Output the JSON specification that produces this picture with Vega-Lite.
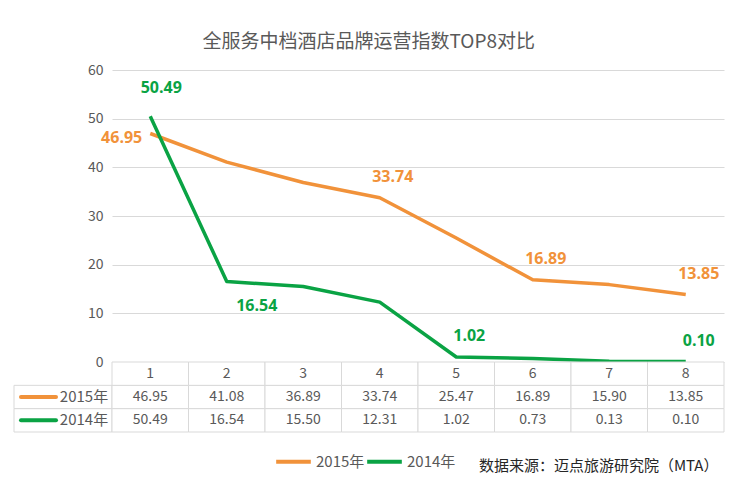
{
  "$schema": "https://vega.github.io/schema/vega-lite/v6.json",
  "background": "white",
  "padding": {"left": 13, "right": 11, "top": 33, "bottom": 0},
  "title": {
    "text": "全服务中档酒店品牌运营指数TOP8对比",
    "font": "Noto Sans CJK SC",
    "fontSize": 19,
    "fontWeight": "normal",
    "color": "#595959",
    "anchor": "middle",
    "offset": 11
  },
  "datasets": {
    "scores": [
      {"rank": 1, "series": "2015年", "value": 46.95},
      {"rank": 2, "series": "2015年", "value": 41.08},
      {"rank": 3, "series": "2015年", "value": 36.89},
      {"rank": 4, "series": "2015年", "value": 33.74},
      {"rank": 5, "series": "2015年", "value": 25.47},
      {"rank": 6, "series": "2015年", "value": 16.89},
      {"rank": 7, "series": "2015年", "value": 15.90},
      {"rank": 8, "series": "2015年", "value": 13.85},
      {"rank": 1, "series": "2014年", "value": 50.49},
      {"rank": 2, "series": "2014年", "value": 16.54},
      {"rank": 3, "series": "2014年", "value": 15.50},
      {"rank": 4, "series": "2014年", "value": 12.31},
      {"rank": 5, "series": "2014年", "value": 1.02},
      {"rank": 6, "series": "2014年", "value": 0.73},
      {"rank": 7, "series": "2014年", "value": 0.13},
      {"rank": 8, "series": "2014年", "value": 0.10}
    ]
  },
  "columns": 2,
  "spacing": 0,
  "bounds": "flush",
  "concat": [
    {
      "width": 98,
      "height": 292,
      "data": {"values": []},
      "mark": "text"
    },
    {
      "width": 612,
      "height": 292,
      "data": {"name": "scores"},
      "encoding": {
        "x": {"field": "rank", "type": "ordinal", "axis": null},
        "y": {
          "field": "value",
          "type": "quantitative",
          "scale": {"domain": [0, 60]},
          "axis": {
            "values": [0, 10, 20, 30, 40, 50, 60],
            "title": null,
            "domain": false,
            "ticks": false,
            "labelPadding": 9,
            "labelFontSize": 14,
            "labelColor": "#595959",
            "gridColor": "#d9d9d9"
          }
        },
        "color": {
          "field": "series",
          "type": "nominal",
          "scale": {"domain": ["2015年", "2014年"], "range": ["#F1923A", "#0AA344"]},
          "legend": {
            "orient": "none",
            "legendX": 260,
            "legendY": 372,
            "direction": "horizontal",
            "title": null,
            "symbolType": "stroke",
            "symbolSize": 1200,
            "symbolStrokeWidth": 4,
            "labelFontSize": 15,
            "labelColor": "#595959",
            "labelOffset": 3,
            "columnPadding": -6
          }
        }
      },
      "layer": [
        {"mark": {"type": "line", "strokeWidth": 3.5, "strokeJoin": "round"}},
        {
          "transform": [{"filter": "(datum.series == '2015年' && (datum.rank == 4 || datum.rank == 6 || datum.rank == 8)) || (datum.series == '2014年' && (datum.rank == 5 || datum.rank == 8))"}],
          "mark": {"type": "text", "font": "Open Sans", "fontSize": 16, "fontWeight": "bold", "dx": 13, "dy": -21},
          "encoding": {"text": {"field": "value", "type": "quantitative", "format": ".2f"}}
        },
        {
          "transform": [{"filter": "datum.series == '2015年' && datum.rank == 1"}],
          "mark": {"type": "text", "font": "Open Sans", "fontSize": 16, "fontWeight": "bold", "align": "right", "dx": -8, "dy": 4},
          "encoding": {"text": {"field": "value", "type": "quantitative", "format": ".2f"}}
        },
        {
          "transform": [{"filter": "datum.series == '2014年' && datum.rank == 1"}],
          "mark": {"type": "text", "font": "Open Sans", "fontSize": 16, "fontWeight": "bold", "dx": 11, "dy": -28},
          "encoding": {"text": {"field": "value", "type": "quantitative", "format": ".2f"}}
        },
        {
          "transform": [{"filter": "datum.series == '2014年' && datum.rank == 2"}],
          "mark": {"type": "text", "font": "Open Sans", "fontSize": 16, "fontWeight": "bold", "dx": 30, "dy": 24},
          "encoding": {"text": {"field": "value", "type": "quantitative", "format": ".2f"}}
        }
      ]
    },
    {
      "width": 98,
      "height": 70,
      "data": {"name": "scores"},
      "transform": [{"filter": "datum.rank == 1"}],
      "encoding": {
        "y": {
          "field": "series",
          "type": "nominal",
          "scale": {"type": "band", "domain": ["排名", "2015年", "2014年"], "paddingInner": 0, "paddingOuter": 0},
          "axis": null
        }
      },
      "layer": [
        {"mark": {"type": "rect", "fill": "white", "stroke": "#d9d9d9", "strokeWidth": 1}},
        {
          "mark": {"type": "point", "shape": "M-1,0L1,0", "size": 1225, "strokeWidth": 4, "filled": false, "opacity": 1, "strokeCap": "round", "xOffset": -24.5},
          "encoding": {"color": {"field": "series", "type": "nominal"}}
        },
        {
          "mark": {"type": "text", "fontSize": 15, "color": "#595959", "dx": 21},
          "encoding": {"text": {"field": "series", "type": "nominal"}}
        }
      ]
    },
    {
      "width": 612,
      "height": 70,
      "data": {"name": "scores"},
      "title": {
        "text": "数据来源：迈点旅游研究院（MTA）",
        "orient": "bottom",
        "anchor": "end",
        "offset": 26,
        "dx": -6,
        "fontSize": 15,
        "fontWeight": "normal",
        "color": "#262626"
      },
      "encoding": {
        "x": {
          "field": "rank",
          "type": "ordinal",
          "scale": {"type": "band", "paddingInner": 0, "paddingOuter": 0},
          "axis": null
        }
      },
      "layer": [
        {
          "mark": {"type": "rect", "fill": "white", "stroke": "#d9d9d9", "strokeWidth": 1},
          "encoding": {
            "y": {
              "field": "series",
              "type": "nominal",
              "scale": {"type": "band", "domain": ["排名", "2015年", "2014年"], "paddingInner": 0, "paddingOuter": 0},
              "axis": null
            }
          }
        },
        {
          "transform": [{"filter": "datum.series == '2015年'"}],
          "mark": {"type": "rect", "fill": "white", "stroke": "#d9d9d9", "strokeWidth": 1},
          "encoding": {"y": {"datum": "排名", "type": "nominal"}}
        },
        {
          "mark": {"type": "text", "fontSize": 14, "color": "#595959"},
          "encoding": {
            "y": {"field": "series", "type": "nominal"},
            "text": {"field": "value", "type": "quantitative", "format": ".2f"}
          }
        },
        {
          "transform": [{"filter": "datum.series == '2015年'"}],
          "mark": {"type": "text", "fontSize": 14, "color": "#595959"},
          "encoding": {
            "y": {"datum": "排名", "type": "nominal"},
            "text": {"field": "rank", "type": "ordinal"}
          }
        }
      ]
    }
  ],
  "resolve": {"scale": {"color": "shared"}},
  "config": {
    "view": {"stroke": null},
    "font": "Noto Sans CJK SC"
  }
}
